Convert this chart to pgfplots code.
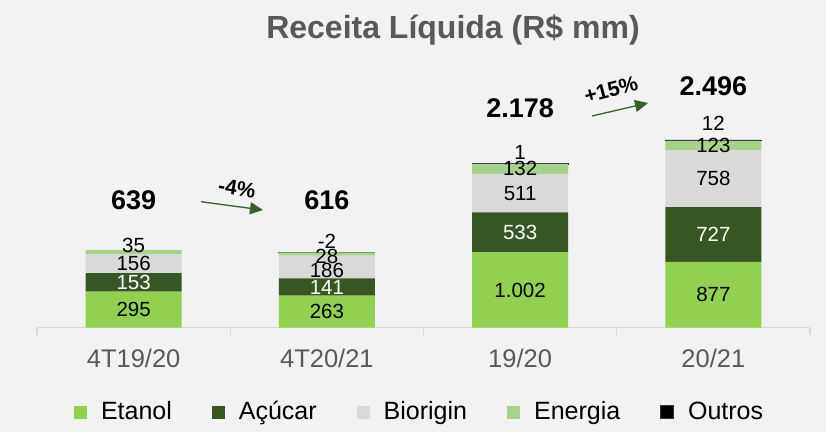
\documentclass[border=0pt]{standalone}
\usepackage{pgfplots}
\pgfplotsset{compat=1.18}
\usepackage{fontspec}
\setmainfont{Liberation Sans}
\usetikzlibrary{arrows.meta}
\definecolor{etanol}{HTML}{92D050}
\definecolor{acucar}{HTML}{375623}
\definecolor{biorigin}{HTML}{D9D9D9}
\definecolor{energia}{HTML}{A9D18E}
\definecolor{bg}{HTML}{F2F2F2}
\definecolor{txtgray}{HTML}{595959}
\definecolor{axgray}{HTML}{D9D9D9}
\definecolor{arrowgreen}{HTML}{3B5E2B}
\pgfplotsset{
  common/.style={
    at={(37bp,104.3bp)}, anchor=south west,
    scale only axis, width=773bp, height=250bp,
    xmin=-0.5, xmax=3.5, ymin=0,
    ybar stacked, stack negative=on previous, bar width=96bp,
    clip=false, axis y line=none,
  },
  sqleg/.style={legend image code/.code={\fill[##1] (0bp,-7bp) rectangle (13bp,6bp);}},
}
\tikzset{
  lbl/.style={font=\fontsize{20.5bp}{24bp}\selectfont, inner sep=0pt},
  tot/.style={font=\bfseries\fontsize{27bp}{30bp}\selectfont, inner sep=0pt},
}
\begin{document}
\begin{tikzpicture}
\fill[bg] (0bp,0bp) rectangle (826bp,432bp);
% quarterly bars
\begin{axis}[common, ymax=2050,
  axis x line*=bottom, axis line style={axgray, line width=1.3bp},
  xtick={0,1,2,3}, xticklabels={4T19/20,4T20/21,19/20,20/21},
  major tick length=0pt,
  extra x ticks={-0.5,0.5,1.5,2.5,3.5}, extra x tick labels={},
  extra x tick style={major tick length=7bp, tick align=outside, tick style={axgray, line width=1.3bp}},
  xticklabel style={font=\fontsize{25.5bp}{30bp}\selectfont, text=txtgray, anchor=base, yshift=-40bp},
  legend columns=5,
  legend style={at={(0.0479,-0.3352)}, anchor=west, draw=none, fill=none, inner sep=0pt, outer sep=0pt,
    font=\fontsize{25bp}{30bp}\selectfont, nodes={inner sep=0pt},
    /tikz/every odd column/.style={column sep=14bp},
    /tikz/every even column/.style={column sep=40bp}},
]
\addplot[fill=etanol, draw=none, sqleg] coordinates {(0,295) (1,263)};
\addplot[fill=acucar, draw=none, sqleg] coordinates {(0,153) (1,141)};
\addplot[fill=biorigin, draw=none, sqleg] coordinates {(0,156) (1,186)};
\addplot[fill=energia, draw=none, sqleg] coordinates {(0,35) (1,28)};
\addplot[fill=black, draw=black!80, line width=0.8bp, sqleg] coordinates {(0,0) (1,-2)};
\legend{Etanol, Açúcar, Biorigin, Energia, Outros}
\coordinate (a1) at (axis cs:0,147.5);
\coordinate (a2) at (axis cs:0,371.5);
\coordinate (a3) at (axis cs:0,525);
\coordinate (a4) at (axis cs:0,678);
\coordinate (at) at (axis cs:0,1047);
\coordinate (b1) at (axis cs:1,131.5);
\coordinate (b2) at (axis cs:1,333.5);
\coordinate (b3) at (axis cs:1,473);
\coordinate (b4) at (axis cs:1,588);
\coordinate (b5) at (axis cs:1,711);
\coordinate (bt) at (axis cs:1,1047);
\end{axis}
% annual bars
\begin{axis}[common, ymax=3325, axis x line=none, xtick=\empty]
\addplot[fill=etanol, draw=none] coordinates {(2,1002) (3,877)};
\addplot[fill=acucar, draw=none] coordinates {(2,533) (3,727)};
\addplot[fill=biorigin, draw=none] coordinates {(2,511) (3,758)};
\addplot[fill=energia, draw=none] coordinates {(2,132) (3,123)};
\addplot[fill=black, draw=black!80, line width=0.8bp] coordinates {(2,1) (3,12)};
\coordinate (c1) at (axis cs:2,501);
\coordinate (c2) at (axis cs:2,1268.5);
\coordinate (c3) at (axis cs:2,1790.5);
\coordinate (c4) at (axis cs:2,2112);
\coordinate (c5) at (axis cs:2,2337);
\coordinate (ct) at (axis cs:2,2922);
\coordinate (d1) at (axis cs:3,438.5);
\coordinate (d2) at (axis cs:3,1240.5);
\coordinate (d3) at (axis cs:3,1983);
\coordinate (d4) at (axis cs:3,2423.5);
\coordinate (d5) at (axis cs:3,2722);
\coordinate (dt) at (axis cs:3,3215);
\end{axis}
% value labels
\node[lbl] at (a1) {295};
\node[lbl, text=white] at (a2) {153};
\node[lbl] at (a3) {156};
\node[lbl] at (a4) {35};
\node[tot] at (at) {639};
\node[lbl] at (b1) {263};
\node[lbl, text=white] at (b2) {141};
\node[lbl] at (b3) {186};
\node[lbl] at (b4) {28};
\node[lbl] at (b5) {-2};
\node[tot] at (bt) {616};
\node[lbl] at (c1) {1.002};
\node[lbl, text=white] at (c2) {533};
\node[lbl] at (c3) {511};
\node[lbl] at (c4) {132};
\node[lbl] at (c5) {1};
\node[tot] at (ct) {2.178};
\node[lbl] at (d1) {877};
\node[lbl, text=white] at (d2) {727};
\node[lbl] at (d3) {758};
\node[lbl] at (d4) {123};
\node[lbl] at (d5) {12};
\node[tot] at (dt) {2.496};
% title and growth annotations
\node[anchor=base, font=\bfseries\fontsize{32bp}{36bp}\selectfont, text=txtgray] at (453bp,393.7bp) {Receita Líquida (R\$ mm)};
\draw[arrowgreen, line width=1.3bp, -{Triangle[length=13bp,width=12bp]}] (201bp,230.3bp) -- (263bp,222bp);
\node[rotate=-9, font=\bfseries\fontsize{21bp}{24bp}\selectfont] at (237bp,244bp) {-4\%};
\draw[arrowgreen, line width=1.3bp, -{Triangle[length=13bp,width=12bp]}] (592bp,316bp) -- (648bp,329bp);
\node[rotate=15, font=\bfseries\fontsize{21bp}{24bp}\selectfont] at (611bp,342bp) {+15\%};
\end{tikzpicture}
\end{document}
